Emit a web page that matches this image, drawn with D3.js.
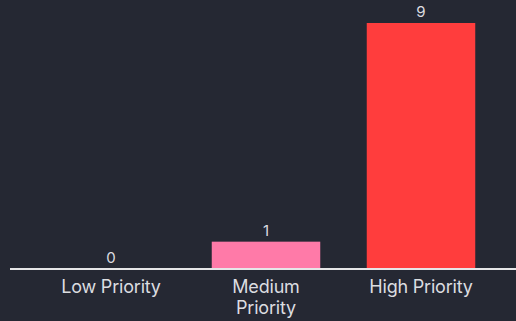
<!DOCTYPE html>
<html>
<head>
<meta charset="utf-8">
<script src="https://cdn.jsdelivr.net/npm/d3@7"></script>
<style>
  html, body { margin: 0; padding: 0; background: #252833; }
  svg { display: block; font-family: Inter, "Noto Sans", sans-serif; }
</style>
</head>
<body>
<div id="chart"></div>
<script>
// ------- Data -------
const categories = ["Low Priority", "Medium Priority", "High Priority"];
const labelLines = [["Low Priority"], ["Medium", "Priority"], ["High Priority"]];
const values = [0, 1, 9];
const colors = ["#ff7aa8", "#ff7aa8", "#ff3d3d"];

const width = 516;
const height = 321;
const baseY = 269;
const topY = 23;

const svg = d3.select("#chart")
  .append("svg")
  .attr("width", width)
  .attr("height", height);

svg.append("rect")
  .attr("width", width)
  .attr("height", height)
  .attr("fill", "#252833");

const x = d3.scaleBand()
  .domain(categories)
  .range([33.5, 498.5])
  .paddingInner(0.3)
  .paddingOuter(0.15);

const y = d3.scaleLinear()
  .domain([0, d3.max(values)])
  .range([baseY, topY]);

const data = categories.map((c, i) => ({ key: c, value: values[i], color: colors[i], lines: labelLines[i] }));

// Bars
svg.selectAll("rect.bar")
  .data(data)
  .join("rect")
  .attr("class", "bar")
  .attr("x", (d) => x(d.key))
  .attr("y", (d) => y(d.value))
  .attr("width", x.bandwidth())
  .attr("height", (d) => baseY - y(d.value))
  .attr("fill", (d) => d.color);

// Value labels
svg.selectAll("text.val")
  .data(data)
  .join("text")
  .attr("class", "val")
  .attr("x", (d) => x(d.key) + x.bandwidth() / 2)
  .attr("y", (d) => y(d.value) - 6)
  .attr("text-anchor", "middle")
  .attr("fill", "#dcdde0")
  .attr("font-size", 15)
  .text((d) => d.value);

// Baseline
svg.append("line")
  .attr("x1", 10)
  .attr("x2", width)
  .attr("y1", baseY)
  .attr("y2", baseY)
  .attr("stroke", "#e6e6e8")
  .attr("stroke-width", 2);

// Category labels
const cat = svg.selectAll("text.cat")
  .data(data)
  .join("text")
  .attr("class", "cat")
  .attr("text-anchor", "middle")
  .attr("fill", "#dcdde0")
  .attr("font-size", 18)
  .attr("letter-spacing", -0.2);

cat.selectAll("tspan")
  .data((d) => d.lines.map((l) => ({ l, cx: x(d.key) + x.bandwidth() / 2 })))
  .join("tspan")
  .attr("x", (d) => d.cx)
  .attr("y", (d, i) => 293 + i * 21)
  .text((d) => d.l);
</script>
</body>
</html>
